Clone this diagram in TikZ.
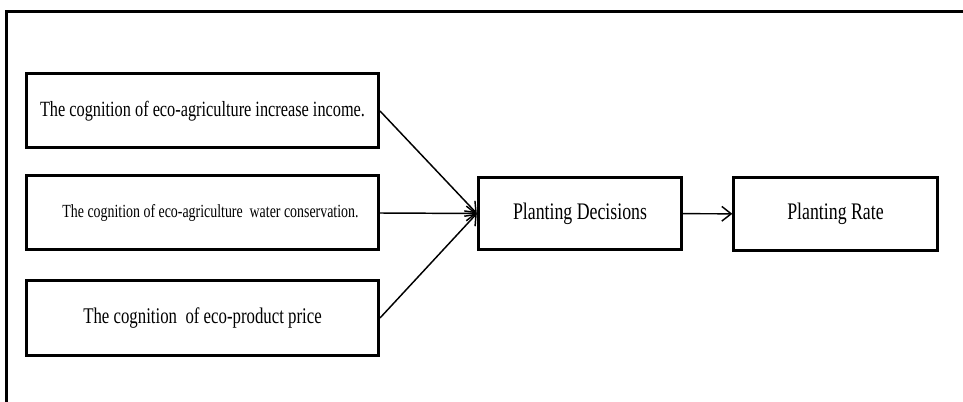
\documentclass[tikz,border=0pt]{standalone}
\usepackage{fontspec}
\setmainfont[FakeStretch=0.75]{Liberation Serif}
\usetikzlibrary{arrows.meta}
\tikzset{
	cogbox/.style={draw, line width=2.25pt, minimum width=264pt, minimum height=55.5pt, inner sep=0pt},
	outbox/.style={draw, line width=2.25pt, minimum width=152.5pt, minimum height=54.5pt, inner sep=0pt},
	link/.style={line width=1.1pt, -{Straight Barb[length=7pt,width=11pt]}}
}
\begin{document}
\begin{tikzpicture}[x=0.75pt,y=-0.75pt]
				\useasboundingbox (0,0) rectangle (963,402);
				\draw[line width=2.5pt] (963,11.7) -| (6.7,402);
				\node[cogbox] (income) at (202.5,111) {\fontsize{16.3pt}{18pt}\selectfont The cognition of eco-agriculture increase income.};
				\node[cogbox] (water) at (202.5,213) {\fontsize{13.9pt}{16pt}\selectfont\hspace{12pt}The cognition of eco-agriculture\ \ water conservation.};
				\node[cogbox] (price) at (202.5,318) {\fontsize{16.8pt}{18pt}\selectfont The cognition\ \ of eco-product price};
				\node[outbox] (decision) at (580,213.5) {\fontsize{17.8pt}{20pt}\selectfont Planting Decisions};
				\node[outbox] (rate) at (835.5,214) {\fontsize{17.8pt}{20pt}\selectfont Planting Rate};
				\draw[link] (income.east) -- (decision.west);
				\draw[link] (water.east) -- (decision.west);
				\draw[link] (price.east) -- (decision.west);
				\draw[link] (decision) -- (rate);
			\end{tikzpicture}
\end{document}
